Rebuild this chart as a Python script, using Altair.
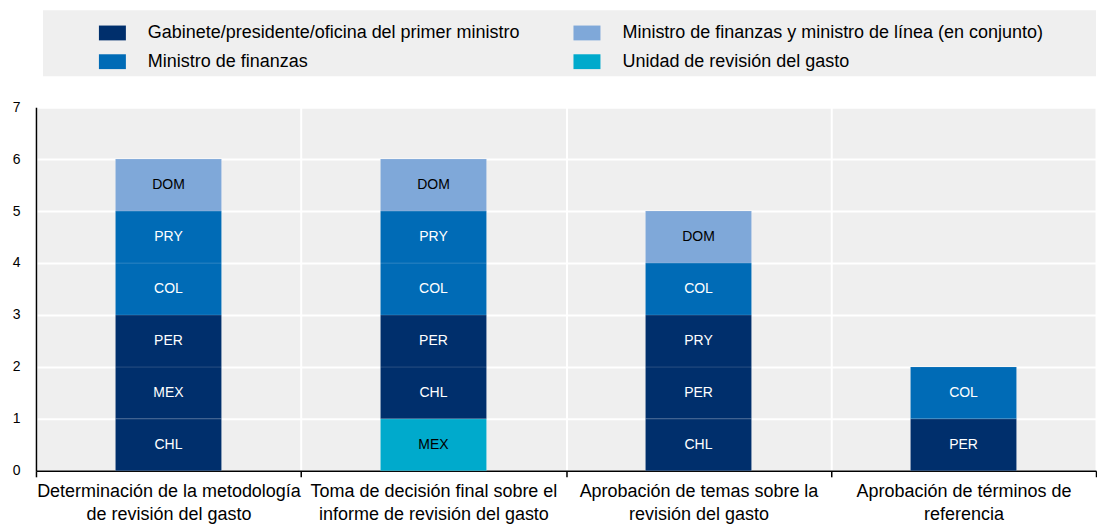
import altair as alt
import pandas as pd

categories = [
    "Determinación de la metodología de revisión del gasto",
    "Toma de decisión final sobre el informe de revisión del gasto",
    "Aprobación de temas sobre la revisión del gasto",
    "Aprobación de términos de referencia",
]
category_lines = [
    ["Determinación de la metodología", "de revisión del gasto"],
    ["Toma de decisión final sobre el", "informe de revisión del gasto"],
    ["Aprobación de temas sobre la", "revisión del gasto"],
    ["Aprobación de términos de", "referencia"],
]

actors = [
    "Gabinete/presidente/oficina del primer ministro",
    "Ministro de finanzas",
    "Ministro de finanzas y ministro de línea (en conjunto)",
    "Unidad de revisión del gasto",
]
actor_colors = ["#002F6C", "#006BB6", "#7FA8D9", "#00AACC"]
actor_text_colors = ["#FFFFFF", "#FFFFFF", "#000000", "#000000"]

G, MF, J, U = actors

# segments, bottom to top within each category
seg_category = (
    [categories[0]] * 6 + [categories[1]] * 6 + [categories[2]] * 5 + [categories[3]] * 2
)
seg_country = [
    "CHL", "MEX", "PER", "COL", "PRY", "DOM",
    "MEX", "CHL", "PER", "COL", "PRY", "DOM",
    "CHL", "PER", "PRY", "COL", "DOM",
    "PER", "COL",
]
seg_actor = [
    G, G, G, MF, MF, J,
    U, G, G, MF, MF, J,
    G, G, G, MF, J,
    G, MF,
]
seg_value = [1] * len(seg_country)

df = pd.DataFrame({
    "category": seg_category,
    "country": seg_country,
    "actor": seg_actor,
    "value": seg_value,
})
df["pos"] = df.groupby("category").cumcount()
df["textcolor"] = df["actor"].map(dict(zip(actors, actor_text_colors)))

FONT = "Liberation Sans, Arial, sans-serif"
W, H = 1061, 364

label_expr = ""
for c, lines in zip(categories, category_lines):
    label_expr += "datum.value == '%s' ? ['%s', '%s'] : " % (c, lines[0], lines[1])
label_expr += "datum.label"

base = alt.Chart(df).transform_stack(
    stack="value",
    groupby=["category"],
    as_=["y0", "y1"],
    sort=[alt.SortField("pos", order="ascending")],
).transform_calculate(ymid="(datum.y0 + datum.y1) / 2")

x_scale = alt.Scale(paddingInner=0, paddingOuter=0)

x_enc = alt.X(
    "category:N",
    sort=categories,
    scale=x_scale,
    axis=alt.Axis(
        title=None,
        labelAngle=0,
        labelExpr=label_expr,
        labelFont=FONT,
        labelFontSize=18,
        labelColor="#000000",
        labelPadding=6,
        labelLineHeight=23,
        labelLimit=0,
        tickBand="extent",
        ticks=True,
        tickSize=6,
        tickWidth=1.5,
        tickColor="#000000",
        domainColor="#000000",
        grid=True,
        gridColor="#FFFFFF",
        gridWidth=2,
    ),
)

bars = base.mark_bar(
    width=alt.RelativeBandSize(0.4), stroke="#FFFFFF", strokeOpacity=0.12, strokeWidth=1
).encode(
    x=x_enc,
    y=alt.Y(
        "y0:Q",
        scale=alt.Scale(domain=[0, 7]),
        axis=alt.Axis(
            title=None,
            values=[0, 1, 2, 3, 4, 5, 6, 7],
            format="d",
            labelFont=FONT,
            labelFontSize=14,
            labelColor="#000000",
            labelPadding=16,
            ticks=False,
            domainColor="#000000",
            gridColor="#FFFFFF",
            gridWidth=2,
        ),
    ),
    y2="y1:Q",
    color=alt.Color(
        "actor:N",
        scale=alt.Scale(domain=actors, range=actor_colors),
        legend=alt.Legend(
            title=None,
            orient="none",
            legendX=63,
            legendY=-88,
            columns=2,
            columnPadding=53,
            rowPadding=6,
            symbolType="M-1,-0.55H1V0.55H-1Z",
            symbolSize=729,
            symbolStrokeWidth=0,
            labelFont=FONT,
            labelFontSize=18,
            labelColor="#000000",
            labelOffset=22,
            labelLimit=600,
        ),
    ),
)

texts = base.mark_text(font=FONT, fontSize=14).encode(
    x=alt.X("category:N", sort=categories, scale=x_scale),
    y=alt.Y("ymid:Q"),
    text="country:N",
    color=alt.Color("textcolor:N", scale=None),
)

legend_bg = alt.Chart(alt.Data(values=[{}])).mark_rect(color="#EFEFEF").encode(
    x=alt.value(7), x2=alt.value(W), y=alt.value(-97), y2=alt.value(-31)
)

chart = alt.layer(legend_bg, bars, texts).properties(
    width=W,
    height=H,
    padding={"left": 4, "top": 2, "right": 0, "bottom": 0},
).configure_view(fill="#EFEFEF", stroke=None).configure_axis(domainWidth=1.5)

chart.save("out.html", embed_options={"renderer": "svg", "actions": False})
